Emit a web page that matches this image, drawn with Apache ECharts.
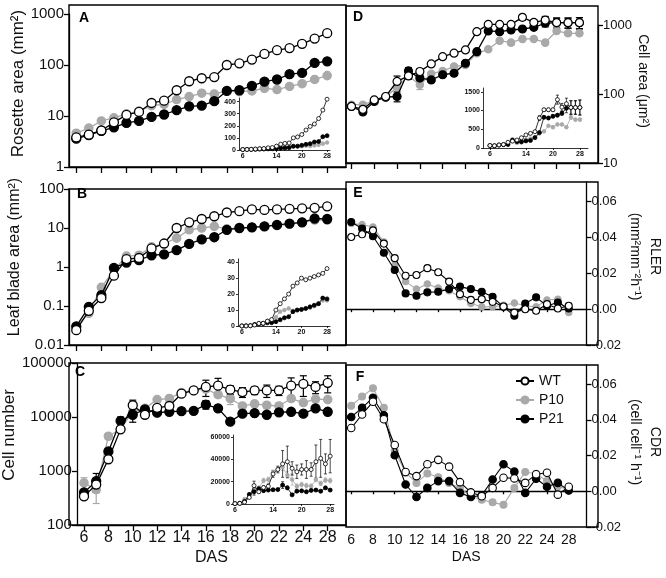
<!DOCTYPE html>
<html><head><meta charset="utf-8">
<script src="https://cdn.jsdelivr.net/npm/echarts@6/dist/echarts.min.js"></script>
<style>html,body{margin:0;padding:0;background:#fff}#c{width:666px;height:578px}</style>
</head><body><div id="c"></div>
<script>
// ---------------- data ----------------
const days = [6,7,8,9,10,11,12,13,14,15,16,17,18,19,20,21,22,23,24,26,28];
const mainTickIdx = [0,2,4,6,8,10,12,14,16,18,20];
const insetTickIdx = [0,8,14,20];
const rateTicks = [-0.02,0,0.02,0.04,0.06];
const insetATicks = [0,100,200,300,400];
const insetBTicks = [0,10,20,30,40];
const insetCTicks = [0,20000,40000,60000];
const insetDTicks = [0,500,1000,1500];
const seriesNames = ['WT','P10','P21'];

// A: rosette area (mm2)
const rosWT  = [3.8,4.3,5.2,7.5,10.5,12,18,20,32,48,55,58,100,108,128,165,195,215,260,330,420];
const rosP10 = [4.6,5.8,8.0,9.2,11,12.5,16,17,21,24,28,27,31,30,31,35,33,38,43,52,62];
const rosP21 = [3.6,4.2,5.1,6.0,7.3,8.0,9.6,10.7,13,15.5,16,19.5,31,32,39,47,52,66,70,110,118];
// B: leaf blade area (mm2)
const bladeWT  = [0.024,0.075,0.16,0.6,1.6,1.7,3.0,4.0,10,14,17,20,25,27,30,29,30,31,32,33,36];
const bladeP10 = [0.03,0.065,0.3,0.84,1.9,2.0,3.3,4.0,5.5,9,10,11,9.5,10,10.3,11,11.5,12.5,14,16,16];
const bladeP21 = [0.03,0.095,0.19,0.95,1.3,1.5,2.0,2.1,2.7,3.9,5.1,5.8,9,10,10.4,11,12,13,14,17.5,17];
// C: cell number
const cellWT  = [340,560,1650,5900,16500,11000,14800,16000,27000,31000,36000,38000,32000,29000,31000,31000,31000,38000,41000,36000,43000];
const cellP10 = [600,450,4400,6000,12500,14500,21000,22000,28500,31000,33000,26000,22000,16000,17500,16500,16000,22000,18500,21500,21000];
const cellP21 = [400,650,2300,8500,11000,13800,12000,12500,12800,13000,17000,14500,8200,11500,11800,11000,12200,12500,11500,14500,12500];
const cellWTerr  = [40,120,200,600,4000,1200,1500,2000,3000,3000,12000,14000,6000,6000,5000,8000,6000,15000,17000,9000,15000];
const cellP10err = [150,200,500,500,1500,1500,2000,2000,2000,2000,3000,3000,5000,2000,2000,2000,2000,2000,2000,2000,2000];
const cellP21err = [50,250,300,1500,3000,1500,1000,1000,1000,1000,3000,1500,800,1000,1000,1000,1000,1000,1000,1000,1000];
// D: cell area (um2)
const areaWT  = [66,60,82,92,152,183,212,273,348,390,435,800,1020,1020,1020,1290,1090,1180,1080,1080,1080];
const areaP10 = [70,70,80,89,126,183,136,196,216,250,264,389,445,593,555,628,628,555,820,758,758];
const areaP21 = [66,55,78,90,92,216,170,160,190,200,279,411,820,800,846,875,925,1060,1080,1080,1080];
const areaWTerr  = [3,3,5,5,30,20,20,15,15,15,20,60,40,40,40,120,100,150,180,180,200];
const areaP10err = [3,3,5,5,10,15,20,10,10,15,15,20,20,30,40,30,30,30,60,40,40];
const areaP21err = [3,3,5,5,15,25,15,10,10,10,15,20,40,40,40,40,50,120,180,180,200];
// E: RLER
const rlerWT  = [0.0403,0.0418,0.044,0.0366,0.0285,0.0187,0.0191,0.0229,0.0206,0.0154,0.0084,0.0052,0.0056,0.0041,0.0015,-0.0019,0.0000,-0.0009,0.0028,0.0004,0.0019];
const rlerP10 = [0.0478,0.0472,0.0459,0.0375,0.0244,0.0154,0.0112,0.0141,0.0118,0.0103,0.0069,0.0032,0.0013,0.0013,0.0022,0.0034,0.0019,0.0013,0.0051,0.0056,-0.0019];
const rlerP21 = [0.0487,0.045,0.0407,0.0315,0.0219,0.0088,0.0075,0.0094,0.0097,0.0112,0.0126,0.0112,0.0097,0.0069,0.0013,-0.0037,0.0032,0.0066,0.0019,0.0037,0.0004];
// F: CDR
const cdrWT  = [0.0354,0.043,0.0501,0.0403,0.0259,0.0108,0.0085,0.0151,0.0176,0.0138,0.0051,-0.0006,-0.0028,0.0019,0.0076,0.0072,0.0047,0.0095,0.0104,-0.0019,0.0025];
const cdrP10 = [0.0479,0.053,0.0577,0.0467,0.0227,0.0104,0.0047,0.01,0.0079,0.0047,0.0019,-0.0028,-0.0047,-0.0062,-0.0076,0.0019,0.0108,0.0098,0.0057,0.0028,0.0009];
const cdrP21 = [0.0416,0.0467,0.0524,0.0426,0.0202,0.0038,-0.0032,0.0019,0.0057,0.0057,-0.0009,-0.0032,-0.0023,0.0066,0.0151,0.011,-0.0009,0.007,0.0025,0.0047,0.0004];

// ---------------- layout & style ----------------
const FONT = '"Liberation Sans", Arial, Helvetica, sans-serif';
const INK = '#111';
const GREY = '#a9a9a9';
const AX = {color:'#000', width:1.3};
const AXI = {color:'#000', width:0.8};

const grid = [
  {left:69,  top:14,  width:277, height:153}, // A
  {left:69,  top:189, width:277, height:156}, // B
  {left:69,  top:363, width:277, height:162}, // C
  {left:346, top:25,  width:252, height:138}, // D
  {left:346, top:182, width:252, height:163}, // E
  {left:346, top:365, width:252, height:162}, // F
  {left:239, top:98,  width:91,  height:52},  // inset A
  {left:238, top:259, width:92,  height:67},  // inset B
  {left:233, top:435, width:101, height:69},  // inset C
  {left:483, top:88,  width:105, height:60}   // inset D
];
const frames = [[69,5,277,162],[69,189,277,156],[69,363,277,162],[346,6,252,157],[346,182,252,163],[346,365,252,162]];
const letters = [['A',84,18],['B',82,194],['C',80,372],['D',358,17],['E',358,193],['F',360,377]];

function logFmt(v){ return String(+Number(v).toPrecision(6)); }
function dayFmt(v){ return String(days[Math.round(v)]); }
function plainFmt(v){ return String(+Number(v).toPrecision(6)); }

const LX = [-0.58, 21.5], RX = [-0.48, 21.63];

function xa(gi, ext, ticks, tickLen, extra) {
  return Object.assign({type:'value', gridIndex:gi, min:ext[0], max:ext[1], position:'bottom',
    axisLine:{show:true, onZero:false, lineStyle:AX},
    axisTick:{show:true, customValues:ticks, length:tickLen, lineStyle:AX},
    axisLabel:{show:false}, splitLine:{show:false}}, extra || {});
}
const insetXLabel = {show:true, customValues:insetTickIdx, formatter:dayFmt, fontSize:7, fontWeight:'bold', margin:3, color:INK, fontFamily:FONT};
const insetXLine = {show:true, onZero:false, lineStyle:AXI};
const insetXTick = {show:true, customValues:insetTickIdx, length:2, lineStyle:AXI};

const xAxis = [
  xa(0, LX, mainTickIdx, 6),
  xa(1, LX, mainTickIdx, 6),
  xa(2, LX, mainTickIdx, 6, {
    axisLabel:{show:true, customValues:mainTickIdx, formatter:dayFmt, fontSize:16, color:INK, margin:5, fontFamily:FONT},
    name:'DAS', nameLocation:'middle', nameGap:25, nameTextStyle:{fontSize:16, color:INK, fontFamily:FONT}}),
  xa(3, RX, mainTickIdx, 6),
  xa(4, RX, mainTickIdx, 3, {axisLine:{show:true, onZero:true, lineStyle:AX}}),
  xa(5, RX, mainTickIdx, 3, {axisLine:{show:true, onZero:true, lineStyle:AX}}),
  {type:'value', gridIndex:5, min:RX[0], max:RX[1], position:'bottom',
    axisLine:{show:false, onZero:false}, axisTick:{show:false}, splitLine:{show:false},
    axisLabel:{show:true, customValues:mainTickIdx, formatter:dayFmt, fontSize:14, color:INK, margin:6, fontFamily:FONT},
    name:'DAS', nameLocation:'middle', nameGap:23, nameTextStyle:{fontSize:14, color:INK, fontFamily:FONT}},
  xa(6, [-0.9, 20.7], insetTickIdx, 2, {axisLine:insetXLine, axisTick:insetXTick, axisLabel:insetXLabel}),
  xa(7, [-0.9, 20.7], insetTickIdx, 2, {axisLine:insetXLine, axisTick:insetXTick, axisLabel:insetXLabel}),
  xa(8, [-0.42, 20.8], insetTickIdx, 2, {axisLine:insetXLine, axisTick:insetXTick, axisLabel:insetXLabel}),
  xa(9, [-1.55, 21.8], insetTickIdx, 2, {axisLine:insetXLine, axisTick:insetXTick, axisLabel:insetXLabel})
];

function ylog(gi, min, max, pos, name, nameGap, nameSize, labelSize, pad, extra) {
  return Object.assign({type:'log', logBase:10, gridIndex:gi, min, max, position:pos,
    axisLine:{show:true, onZero:false, lineStyle:AX},
    axisTick:{show:true, length:5, lineStyle:AX},
    axisLabel:{formatter:logFmt, fontSize:labelSize, color:INK, margin:5, fontFamily:FONT},
    splitLine:{show:false}, minorTick:{show:false},
    name, nameLocation:'middle', nameGap,
    nameTextStyle:{fontSize:nameSize, color:INK, fontFamily:FONT, padding:pad}}, extra || {});
}
function yrate(gi, max, name, pad) {
  return {type:'value', gridIndex:gi, min:-0.02, max, position:'right',
    axisLine:{show:true, onZero:false, lineStyle:AX},
    axisTick:{show:true, customValues:rateTicks, length:5, lineStyle:AX},
    axisLabel:{customValues:rateTicks, formatter:v => Number(v).toFixed(2), fontSize:13, color:INK, margin:5, fontFamily:FONT},
    splitLine:{show:false},
    name, nameLocation:'middle', nameRotate:-90, nameGap:24,
    nameTextStyle:{fontSize:14, lineHeight:20, color:INK, fontFamily:FONT, align:'center', padding:pad}};
}
function yin(gi, max, ticks) {
  return {type:'value', gridIndex:gi, min:0, max, position:'left',
    axisLine:{show:true, onZero:false, lineStyle:AXI},
    axisTick:{show:true, customValues:ticks, length:2, lineStyle:AXI},
    axisLabel:{customValues:ticks, formatter:plainFmt, fontSize:7, fontWeight:'bold', color:INK, margin:3, fontFamily:FONT},
    splitLine:{show:false}};
}

const yAxis = [
  ylog(0, 1, 1000, 'left', 'Rosette area (mm²)', 42, 17, 15, [0,0,0,14]),
  ylog(1, 0.01, 100, 'left', 'Leaf blade area (mm²)', 46, 16, 15, [0,0,0,20]),
  ylog(2, 100, 100000, 'left', 'Cell number', 43, 17, 15, [0,0,0,18]),
  ylog(3, 10, 1000, 'right', 'Cell area (μm²)', 37, 14, 13, [0,26,0,0], {nameRotate:-90}),
  yrate(4, 0.071, 'RLER\n(mm²mm⁻²h⁻¹)', [0,14,0,0]),
  yrate(5, 0.0707, 'CDR\n(cell cell⁻¹ h⁻¹)', [0,8,0,0]),
  yin(6, 430, insetATicks),
  yin(7, 42, insetBTicks),
  yin(8, 62000, insetCTicks),
  yin(9, 1600, insetDTicks)
];

// ---------------- series ----------------
const series = [];
const styleOf = {
  WT:  {line:'#000', fill:'#fff', border:'#000', z:4},
  P10: {line:GREY, fill:GREY, border:GREY, z:2},
  P21: {line:'#000', fill:'#000', border:'#000', z:3}
};
function addLine(name, xi, yi, vals, size, lw, bw) {
  const s = styleOf[name];
  series.push({name, type:'line', xAxisIndex:xi, yAxisIndex:yi,
    data: vals.map((v,i) => [i, v]),
    symbol:'circle', symbolSize:(name==='P10' ? size*0.92 : size), showSymbol:true, showAllSymbol:true,
    lineStyle:{color:s.line, width:lw}, itemStyle:{color:s.fill, borderColor:s.border, borderWidth:bw},
    z:s.z, silent:true, clip:false, emphasis:{disabled:true}, animation:false});
}
function addErr(name, xi, yi, vals, errs, cap, lw) {
  const col = styleOf[name].line;
  series.push({type:'custom', xAxisIndex:xi, yAxisIndex:yi, silent:true, z:1, clip:false,
    encode:{x:0, y:[1,2]},
    data: vals.map((v,i) => [i, v - errs[i], v + errs[i]]),
    renderItem: function(params, api) {
      const x = api.value(0), lo = api.value(1), hi = api.value(2);
      const p1 = api.coord([x, hi]), p2 = api.coord([x, lo]);
      const st = {stroke:col, lineWidth:lw};
      return {type:'group', children:[
        {type:'line', shape:{x1:p1[0], y1:p1[1], x2:p2[0], y2:p2[1]}, style:st},
        {type:'line', shape:{x1:p1[0]-cap, y1:p1[1], x2:p1[0]+cap, y2:p1[1]}, style:st},
        {type:'line', shape:{x1:p2[0]-cap, y1:p2[1], x2:p2[0]+cap, y2:p2[1]}, style:st}
      ]};
    }});
}
function panel(xi, yi, sets, size, lw, bw) {
  ['P10','P21','WT'].forEach(n => addLine(n, xi, yi, sets[n], size, lw, bw));
}
const rosSets   = {WT:rosWT, P10:rosP10, P21:rosP21};
const bladeSets = {WT:bladeWT, P10:bladeP10, P21:bladeP21};
const cellSets  = {WT:cellWT, P10:cellP10, P21:cellP21};
const areaSets  = {WT:areaWT, P10:areaP10, P21:areaP21};
const rlerSets  = {WT:rlerWT, P10:rlerP10, P21:rlerP21};
const cdrSets   = {WT:cdrWT, P10:cdrP10, P21:cdrP21};
const cellErr = {WT:cellWTerr, P10:cellP10err, P21:cellP21err};
const areaErr = {WT:areaWTerr, P10:areaP10err, P21:areaP21err};

['P10','P21','WT'].forEach(n => {
  addErr(n, 2, 2, cellSets[n], cellErr[n], 3.5, 1.2);
  addErr(n, 3, 3, areaSets[n], areaErr[n], 3.5, 1.2);
  addErr(n, 9, 8, cellSets[n], cellErr[n], 1.5, 0.7);
  addErr(n, 10, 9, areaSets[n], areaErr[n], 1.5, 0.7);
});
panel(0, 0, rosSets, 9, 1.3, 1.3);
panel(1, 1, bladeSets, 9, 1.3, 1.3);
panel(2, 2, cellSets, 9, 1.3, 1.3);
panel(3, 3, areaSets, 8, 1.3, 1.2);
panel(4, 4, rlerSets, 7, 1.1, 1.1);
panel(5, 5, cdrSets, 7.5, 1.1, 1.1);
panel(7, 6, rosSets, 4, 0.8, 0.8);
panel(8, 7, bladeSets, 4, 0.8, 0.8);
panel(9, 8, cellSets, 4, 0.8, 0.8);
panel(10, 9, areaSets, 4, 0.8, 0.8);

// ---------------- decorations ----------------
const graphic = [];
frames.forEach(f => graphic.push({type:'rect', shape:{x:f[0], y:f[1], width:f[2], height:f[3]},
  style:{fill:'none', stroke:'#000', lineWidth:1.4}, silent:true, z:10}));
letters.forEach(l => graphic.push({type:'text', x:l[1], y:l[2],
  style:{text:l[0], font:'bold 14px ' + FONT, fill:'#000', align:'center', verticalAlign:'middle'}, silent:true, z:10}));

const option = {
  animation:false,
  backgroundColor:'#fff',
  textStyle:{fontFamily:FONT},
  grid, xAxis, yAxis, series, graphic,
  legend:{data:seriesNames, orient:'vertical', left:510, top:369, itemWidth:18, itemHeight:9, itemGap:5,
    selectedMode:false, textStyle:{fontSize:14, color:INK, fontFamily:FONT}}
};
const chart = echarts.init(document.getElementById('c'), null, {renderer:'canvas'});
chart.setOption(option);
</script>
</body></html>
